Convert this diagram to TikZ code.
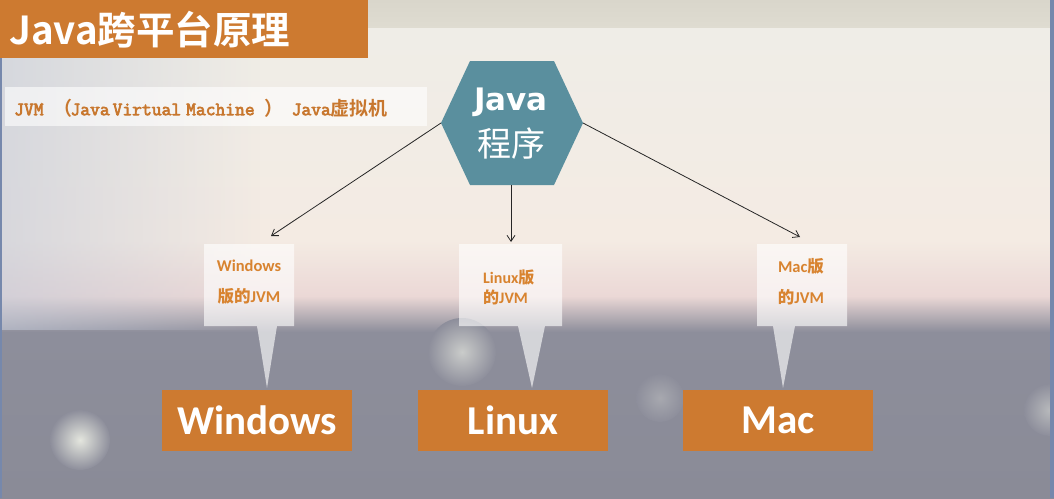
\documentclass[tikz,border=0pt]{standalone}
\usepackage{fontspec}
\setmainfont{Carlito}
\newfontfamily\cjk{Noto Sans CJK SC}
\newfontfamily\cjkb{Noto Sans CJK SC Bold}
\newfontfamily\slabmono{Latin Modern Mono}[FakeBold=3.5]
\newfontfamily\dsans{DejaVu Sans}
\usetikzlibrary{arrows.meta,calc,fadings}
\definecolor{orng}{HTML}{CD7A30}
\definecolor{tealhex}{HTML}{5A8F9E}
\definecolor{calltxt}{HTML}{D8832F}
\definecolor{subtxt}{HTML}{C8772E}
\definecolor{bgA}{HTML}{D9D6CB}
\definecolor{bgB}{HTML}{DFDCD1}
\definecolor{bgC}{HTML}{EFEDE7}
\definecolor{bgD}{HTML}{F4EBE3}
\definecolor{bgE}{HTML}{EBD8D6}
\definecolor{bgF}{HTML}{8D8E9B}
\definecolor{bgG}{HTML}{8A8B97}
\definecolor{edgeblue}{HTML}{7688AC}
\definecolor{bluegray}{HTML}{C4CAD8}
\definecolor{arrowc}{HTML}{262626}
\definecolor{spot}{HTML}{E4E6DE}
\tikzset{
  osbox/.style={fill=orng, text=white, minimum width=190pt, minimum height=61pt,
    inner sep=0pt, font=\bfseries\fontsize{41}{41}\selectfont},
  callout/.style={fill=white, fill opacity=0.62},
  calltext/.style={text=calltxt, font=\bfseries\fontsize{16.5}{31}\selectfont, inner sep=0pt},
  conn/.style={draw=arrowc, line width=0.8pt, -{Straight Barb[length=6pt,width=8pt]}},
  bokeh/.style={inner color=spot, outer color=bgF}
}
\newcommand\cjsub[1]{{\cjkb\fontsize{19}{19}\selectfont #1}}
\begin{document}
\begin{tikzpicture}[x=1pt,y=-1pt]
\useasboundingbox (0,0) rectangle (1054,498);
% background
\shade[top color=bgA, bottom color=bgB] (0,0) rectangle (1054,28);
\shade[top color=bgC, bottom color=bgD] (0,28) rectangle (1054,240);
\shade[top color=bgD, bottom color=bgE] (0,240) rectangle (1054,296);
\shade[top color=bgE, bottom color=bgF] (0,296) rectangle (1054,332);
\shade[top color=bgF, bottom color=bgG] (0,332) rectangle (1054,498);
\fill[bluegray, path fading=east, opacity=0.6] (0,28) rectangle (260,330);
% bokeh spots
\shade[bokeh] (80,440) circle (30);
\shade[bokeh, inner color=spot!70!bgF] (462,352) circle (34);
\shade[bokeh, inner color=spot!50!bgF] (1050,410) circle (26);
\shade[bokeh, inner color=spot!30!bgF] (660,398) circle (24);
% edges
\fill[edgeblue] (0,0) rectangle (2,498);
\fill[edgeblue] (1050,0) rectangle (1054,498);
% title
\fill[orng] (0,0) rectangle (368,58);
\node[anchor=west, text=white, inner sep=0pt, font=\cjkb\fontsize{38.5}{38.5}\selectfont] (title) at (9,30) {Java跨平台原理};
% subtitle
\fill[white, opacity=0.6] (5,87) rectangle (427,126);
\node[anchor=west, inner sep=0pt, text=subtxt, font=\slabmono\fontsize{19}{19}\selectfont] (sub) at (14,108)
  {JVM\hspace{10pt}\cjsub{（}\hspace{-2pt}Java\hspace{3pt}Virtual\hspace{5pt}Machine\hspace{10pt}\cjsub{）}\hspace{8pt}Java\cjsub{虚拟机}};
% hexagon
\coordinate (hL) at (441,123);
\coordinate (hR) at (583,123);
\coordinate (hB) at (511,185);
\fill[tealhex] (470,61) -- (554,61) -- (hR) -- (554,185) -- (470,185) -- (hL) -- cycle;
\node[text=white, inner sep=0pt, font=\dsans\bfseries\fontsize{31}{31}\selectfont] (javat) at (511,102) {Java};
\node[text=white, inner sep=0pt, font=\cjk\fontsize{34}{34}\selectfont] (prog) at (511,144) {程序};
% callouts
\fill[callout] (204,244) -- (294,244) -- (294,326) -- (277,326) -- (267,388) -- (257,326) -- (204,326) -- cycle;
\fill[callout] (459,244) -- (562,244) -- (562,326) -- (545,326) -- (532,388) -- (518,326) -- (459,326) -- cycle;
\fill[callout] (757,244) -- (847,244) -- (847,326) -- (795,326) -- (783,388) -- (773,326) -- (757,326) -- cycle;
\node[calltext, align=center] (wcall) at (249,282) {Windows\\{\cjkb 版的}JVM};
\node[calltext, align=left, anchor=west, font=\bfseries\fontsize{16}{20}\selectfont] (lcall) at (483,287) {Linux{\cjkb 版}\\{\cjkb 的}JVM};
\node[calltext, align=center] (mcall) at (801,282) {Mac{\cjkb 版}\\{\cjkb 的}JVM};
% OS boxes
\node[osbox] (win) at (257,420) {Windows};
\node[osbox] (lin) at (513,420) {Linux};
\node[osbox] (mac) at (778,420) {Mac};
% connectors
\coordinate (wend) at (271,236);
\coordinate (lend) at (511,242);
\coordinate (mend) at (800,237);
\draw[conn] (hL) -- (wend);
\draw[conn] (hB) -- (lend);
\draw[conn] (hR) -- (mend);
\end{tikzpicture}
\end{document}
